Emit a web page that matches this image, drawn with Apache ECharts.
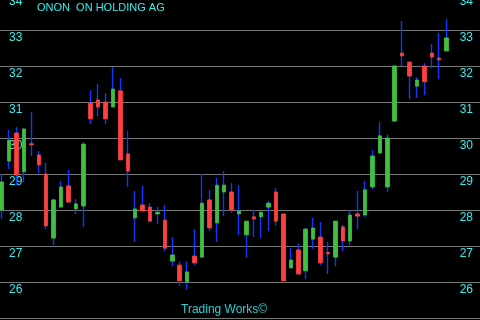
<!DOCTYPE html>
<html><head><meta charset="utf-8">
<script src="https://cdn.jsdelivr.net/npm/echarts@6/dist/echarts.min.js"></script>
<style>html,body{margin:0;padding:0;background:#000;overflow:hidden;}
#wrap{position:relative;width:480px;height:320px;overflow:hidden;background:#000;}
#c{position:absolute;left:-2px;top:-6px;width:482px;height:326px;}</style>
</head><body><div id="wrap"><div id="c"></div></div>
<script>
var titleText = 'ONON  ON HOLDING AG';
var footerText = 'Trading Works\u00A9';
var yTicks = [25,26,27,28,29,30,31,32,33,34];
var opens  = [28.00,29.36,30.14,29.06,29.84,29.53,29.00,27.22,28.08,28.67,28.03,28.11,30.97,31.06,31.00,30.86,31.31,29.56,27.78,28.14,28.08,27.89,27.72,26.58,26.47,26.00,26.72,26.69,28.28,27.64,28.50,28.50,27.89,27.31,27.81,27.81,28.08,28.50,27.89,26.39,26.89,26.31,27.19,27.25,26.82,26.69,27.53,27.14,27.89,27.86,28.64,29.58,28.64,30.47,32.36,32.11,31.44,32.00,32.36,32.22,32.42];
var closes = [28.78,29.94,28.97,30.25,29.81,29.25,27.56,28.28,28.64,28.22,28.17,29.83,30.53,30.86,30.53,31.36,29.39,29.08,28.03,27.97,27.69,27.94,26.94,26.75,26.03,26.28,26.53,28.19,27.50,28.69,28.69,28.00,27.97,27.69,27.75,27.94,28.19,27.69,26.03,26.61,26.22,27.47,27.50,26.53,26.78,27.69,27.14,27.86,27.83,28.56,29.50,30.06,30.00,32.00,32.28,31.72,31.61,31.56,32.25,32.17,32.78];
var lows   = [27.75,29.14,28.69,28.78,29.50,29.03,27.47,27.03,28.08,28.19,27.89,27.53,30.39,30.61,30.39,30.86,29.39,28.64,27.11,27.97,27.67,27.61,26.86,26.44,25.89,25.78,26.47,26.69,27.42,27.11,27.83,27.92,27.31,26.67,27.25,27.22,27.42,27.56,26.03,26.39,26.22,26.08,26.92,26.47,26.22,26.44,26.86,27.03,27.47,27.81,28.58,29.58,28.50,30.44,32.00,31.08,31.11,31.19,31.94,31.64,32.39];
var highs  = [29.00,30.22,30.31,30.28,30.72,29.64,29.31,28.31,28.81,29.11,28.31,29.89,31.33,31.50,31.25,31.97,31.67,30.19,28.53,28.67,28.19,28.08,28.14,27.25,26.56,26.58,27.47,29.00,28.56,28.89,29.08,28.75,28.69,27.69,28.00,27.94,28.25,28.61,27.89,26.94,27.08,27.50,27.78,27.67,27.11,27.69,27.58,28.00,28.53,28.81,29.67,30.44,30.10,32.03,33.25,32.11,31.69,32.08,32.61,32.92,33.31];
var emptySlots = 4;

var categories = [];
for (var i = 0; i < opens.length + emptySlots; i++) categories.push(String(i + 1));
var wickData = [], bodyData = [];
for (var i = 0; i < opens.length; i++) {
  wickData.push([opens[i], closes[i], lows[i], highs[i]]);
  bodyData.push([opens[i], closes[i], Math.min(opens[i], closes[i]), Math.max(opens[i], closes[i])]);
}
var BLUE = '#0a3cff', GREEN = '#40c040', RED = '#ff4040', CYAN = '#33f0f0';
var FONT = 'Liberation Sans';
var chart = echarts.init(document.getElementById('c'), null, {renderer: 'canvas'});
var axisLabelBase = {inside: true, color: CYAN, fontSize: 12, fontFamily: FONT, verticalAlign: 'top', padding: [2, 0, 0, 0]};
chart.setOption({
  backgroundColor: '#000',
  animation: false,
  grid: {left: 0, right: 0, top: 0, bottom: 2, containLabel: false, outerBoundsMode: 'none'},
  xAxis: {type: 'category', data: categories, boundaryGap: true,
    axisLine: {show: false}, axisTick: {show: false}, axisLabel: {show: false}, splitLine: {show: false}},
  yAxis: [
    {type: 'value', position: 'left', min: yTicks[0], max: yTicks[yTicks.length - 1], interval: 1,
      axisLine: {show: false}, axisTick: {show: false},
      axisLabel: Object.assign({margin: 11, align: 'left'}, axisLabelBase),
      splitLine: {show: true, lineStyle: {color: '#777', width: 1}}},
    {type: 'value', position: 'right', min: yTicks[0], max: yTicks[yTicks.length - 1], interval: 1,
      axisLine: {show: false}, axisTick: {show: false},
      axisLabel: Object.assign({margin: 7, align: 'right'}, axisLabelBase),
      splitLine: {show: false}}
  ],
  title: [
    {text: titleText, left: 39, top: 8, padding: 0, textStyle: {color: CYAN, fontSize: 11, fontWeight: 'normal', fontFamily: FONT}},
    {text: footerText, left: 183, top: 310, padding: 0, textStyle: {color: '#2ad0d0', fontSize: 12, fontWeight: 'normal', fontFamily: FONT}}
  ],
  series: [
    {type: 'candlestick', data: wickData, barWidth: 1, z: 2,
      itemStyle: {color: BLUE, color0: BLUE, borderColor: BLUE, borderColor0: BLUE, borderWidth: 1.4}},
    {type: 'candlestick', data: bodyData, barWidth: 4, z: 3,
      itemStyle: {color: GREEN, color0: RED, borderColor: GREEN, borderColor0: RED, borderWidth: 0.8}}
  ]
});
</script></body></html>
